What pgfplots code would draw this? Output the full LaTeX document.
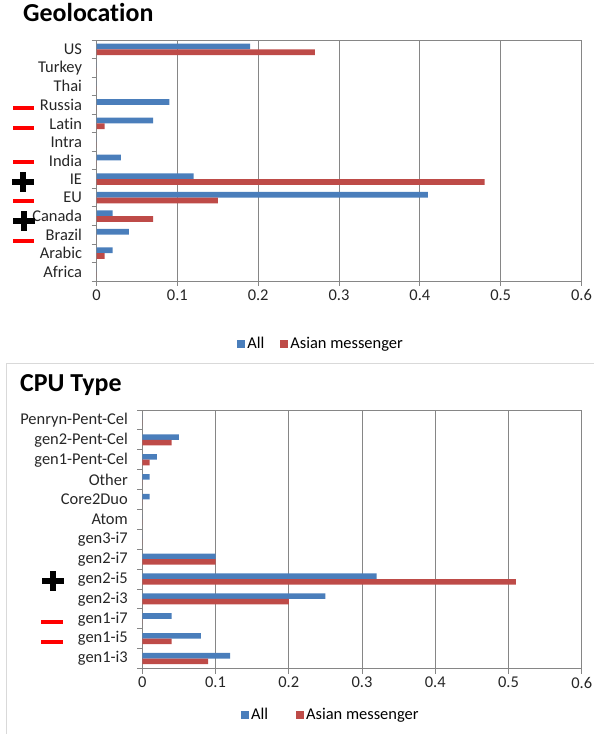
\documentclass[border=0pt]{standalone}
\usepackage{pgfplots}
\pgfplotsset{compat=1.18}
\usepackage{pgfplotstable}
\usepackage{fontspec}
\setmainfont{Carlito}[Ligatures=NoCommon]
\definecolor{barblue}{HTML}{4A7EBB}
\definecolor{barred}{HTML}{BE4B48}
\definecolor{axgray}{HTML}{868686}
\definecolor{framegray}{HTML}{D9D9D9}

\pgfplotstableread{
idx all asian
0 0 0
1 0.02 0.01
2 0.04 0
3 0.02 0.07
4 0.41 0.15
5 0.12 0.48
6 0.03 0
7 0 0
8 0.07 0.01
9 0.09 0
10 0 0
11 0 0
12 0.19 0.27
}\geodata

\pgfplotstableread{
idx all asian
0 0.12 0.09
1 0.08 0.04
2 0.04 0
3 0.25 0.20
4 0.32 0.51
5 0.10 0.10
6 0 0
7 0 0
8 0.01 0
9 0.01 0
10 0.02 0.01
11 0.05 0.04
12 0 0
}\cpudata

\pgfplotsset{
  excelbar/.style={
    scale only axis,
    anchor=south west,
    xmin=0, xmax=0.6,
    xtick={0,0.1,0.2,0.3,0.4,0.5,0.6},
    xticklabels={0,0.1,0.2,0.3,0.4,0.5,0.6},
    ymin=-0.5, ymax=12.5,
    ytick={0,...,12},
    minor ytick={-0.5,0.5,...,12.5},
    tick align=outside,
    tick pos=left,
    major tick length=5bp,
    minor tick length=5bp,
    major y tick style={draw=none},
    minor y tick style={axgray, line width=0.8bp},
    major x tick style={axgray, line width=0.8bp},
    axis line style={axgray, line width=0.8bp},
    xmajorgrids,
    major grid style={axgray, line width=0.9bp},
    tick label style={font=\fontsize{16.5}{18}\selectfont, text=black!85},
    yticklabel style={xshift=-6bp},
    legend style={draw=none, fill=none, legend columns=2,
      font=\fontsize{16.5}{18}\selectfont, anchor=center,
      /tikz/every even column/.append style={column sep=14bp}},
    legend image code/.code={\fill[##1] (0bp,-4bp) rectangle (8bp,4bp);},
    clip=false,
  }
}

\begin{document}
\begin{tikzpicture}
\path[use as bounding box] (0,0) rectangle (594bp,734bp);

% titles
\node[anchor=base west, inner sep=0pt, font=\bfseries\fontsize{26}{28}\selectfont] at (23bp,712.5bp) {Geolocation};
\draw[framegray, line width=0.9bp] (6.5bp,0bp) -- (6.5bp,370.7bp) -- (594bp,370.7bp);
\node[anchor=base west, inner sep=0pt, font=\bfseries\fontsize{26}{28}\selectfont] at (20bp,342bp) {CPU Type};

\begin{axis}[excelbar,
  at={(96.5bp,453bp)}, width=485bp, height=241bp,
  yticklabels={Africa,Arabic,Brazil,Canada,EU,IE,India,Intra,Latin,Russia,Thai,Turkey,US},
  legend style={at={(axis description cs:0.463,-0.261)}},
]
\addplot[xbar, bar shift=0.155, bar width=0.31, fill=barblue, draw=none] table[x=all, y=idx] {\geodata};
\addplot[xbar, bar shift=-0.155, bar width=0.31, fill=barred, draw=none] table[x=asian, y=idx] {\geodata};
\legend{All, Asian messenger}
\end{axis}

\begin{axis}[excelbar,
  at={(142.3bp,65.5bp)}, width=439.4bp, height=258.5bp,
  yticklabels={gen1-i3,gen1-i5,gen1-i7,gen2-i3,gen2-i5,gen2-i7,gen3-i7,Atom,Core2Duo,Other,gen1-Pent-Cel,gen2-Pent-Cel,Penryn-Pent-Cel},
  legend style={at={(axis description cs:0.429,-0.18)}, /tikz/every even column/.append style={column sep=26bp}},
]
\addplot[xbar, bar shift=0.14, bar width=0.28, fill=barblue, draw=none] table[x=all, y=idx] {\cpudata};
\addplot[xbar, bar shift=-0.14, bar width=0.28, fill=barred, draw=none] table[x=asian, y=idx] {\cpudata};
\legend{All, Asian messenger}
\end{axis}

% annotations: minus (red) and plus (black)
\foreach \y in {107.7,127.7,162,200.7,240.7} {
  \fill[red] (13bp,{734bp-\y bp-2bp}) rectangle (34bp,{734bp-\y bp+2bp});
}
\foreach \y in {621.7,642.3} {
  \fill[red] (41bp,{734bp-\y bp-2bp}) rectangle (63bp,{734bp-\y bp+2bp});
}
\foreach \x/\y in {23/182, 24/221.5, 53/581} {
  \fill[black] ({\x bp-11bp},{734bp-\y bp-3bp}) rectangle ({\x bp+11bp},{734bp-\y bp+3bp});
  \fill[black] ({\x bp-3bp},{734bp-\y bp-10bp}) rectangle ({\x bp+3bp},{734bp-\y bp+10bp});
}
\end{tikzpicture}
\end{document}
